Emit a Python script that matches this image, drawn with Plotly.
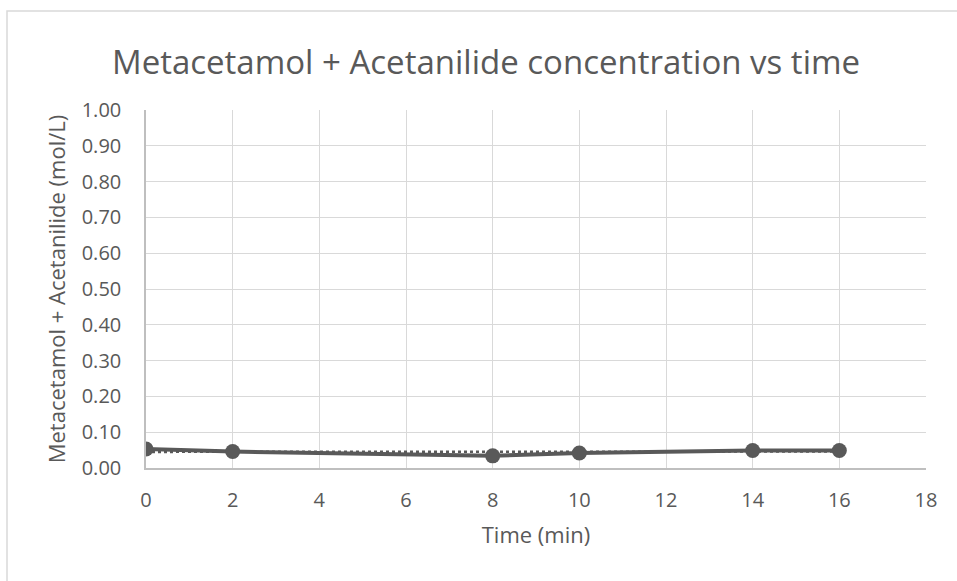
import plotly.graph_objects as go

# data
time_min = [0, 2, 8, 10, 14, 16]
conc = [0.053, 0.046, 0.034, 0.042, 0.049, 0.049]
# dotted trendline end points
trend_x = [0, 16]
trend_y = [0.045, 0.046]

title = "Metacetamol + Acetanilide concentration vs time"
x_title = "Time (min)"
y_title = "Metacetamol + Acetanilide (mol/L)"

grey = "#595959"
grid = "#d9d9d9"
font = "Open Sans"

fig = go.Figure()
fig.add_trace(go.Scatter(x=trend_x, y=trend_y, mode="lines",
                         line=dict(color=grey, width=2.5, dash="dot"),
                         hoverinfo="skip"))
fig.add_trace(go.Scatter(x=time_min, y=conc, mode="lines+markers",
                         line=dict(color=grey, width=4),
                         marker=dict(color=grey, size=15)))

fig.update_layout(
    width=957, height=581,
    margin=dict(l=146, r=31, t=110, b=113),
    paper_bgcolor="white", plot_bgcolor="white",
    showlegend=False,
    font=dict(family=font, color=grey),
    title=dict(text=title, x=(486 - 146) / 780, xref="paper", xanchor="center",
               y=1 - 62 / 581, yanchor="middle", yref="container",
               font=dict(size=33, color=grey)),
    shapes=[dict(type="rect", xref="paper", yref="paper",
                 x0=(7 - 146) / 780, x1=(1000 - 146) / 780,
                 y0=(468 - 640) / 358, y1=(468 - 11) / 358,
                 line=dict(color=grid, width=1.5), layer="below")],
)

fig.update_xaxes(range=[0, 18], dtick=2, tick0=0,
                 showgrid=True, gridcolor=grid, gridwidth=1,
                 showline=True, linecolor="#bfbfbf", linewidth=1.5,
                 zeroline=False, ticks="", ticklabelstandoff=13,
                 tickfont=dict(size=20, color=grey),
                 title=dict(text=x_title, standoff=16, font=dict(size=22, color=grey)))
fig.update_yaxes(range=[0, 1], dtick=0.1, tick0=0, tickformat=".2f",
                 showgrid=True, gridcolor=grid, gridwidth=1,
                 showline=True, linecolor="#bfbfbf", linewidth=1.5,
                 zeroline=False, ticks="", ticklabelstandoff=19,
                 tickfont=dict(size=20, color=grey),
                 title=dict(text=y_title, standoff=10, font=dict(size=22, color=grey)))

# drop the default page margin so the figure sits at the window origin
fig.write_html("out.html", config={"displayModeBar": False},
               post_script="document.body.style.margin='0';")
